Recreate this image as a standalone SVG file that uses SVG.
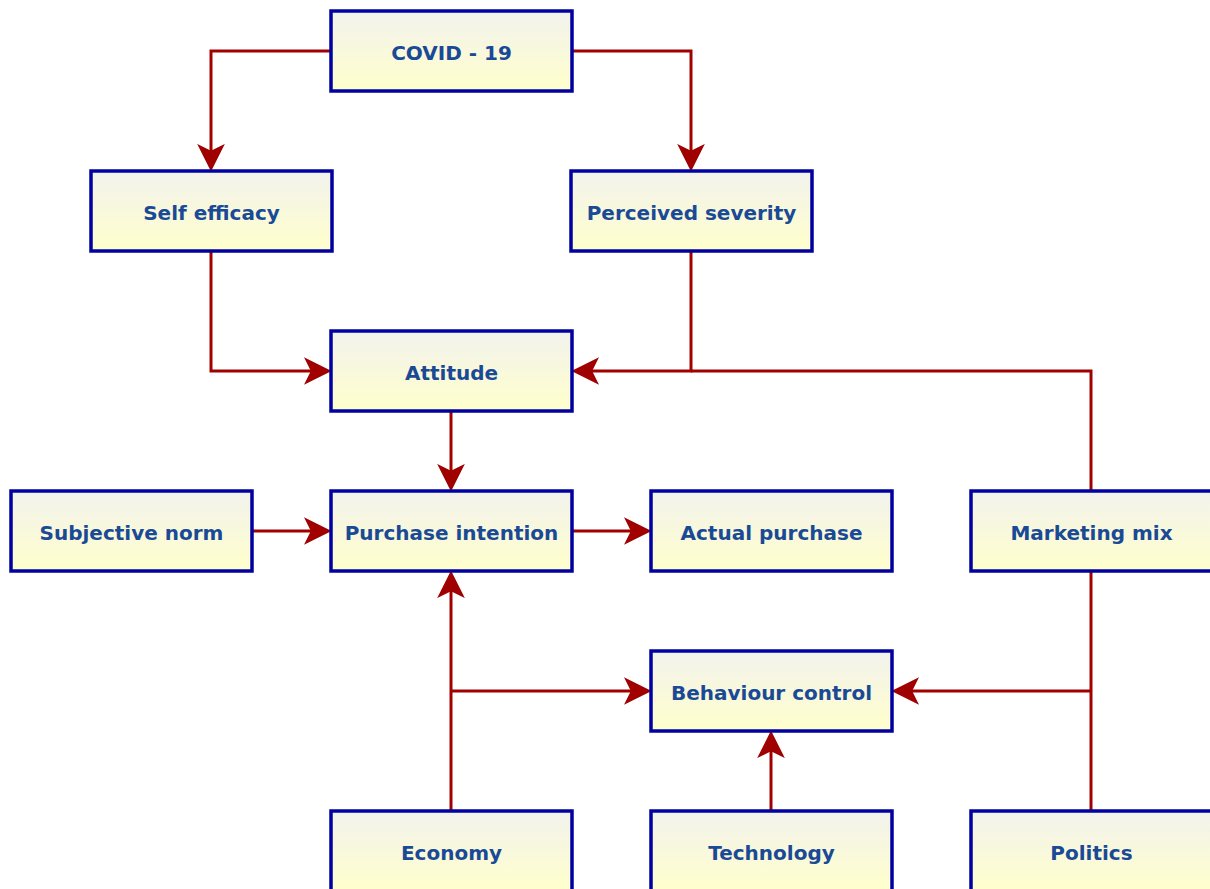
<svg xmlns="http://www.w3.org/2000/svg" width="1210" height="889" viewBox="0 0 1210 889">
<defs>
<linearGradient id="fill" x1="0" y1="0" x2="0" y2="1">
<stop offset="0" stop-color="#F2F2EE"/>
<stop offset="1" stop-color="#FFFFCC"/>
</linearGradient>
<marker id="arr" markerUnits="userSpaceOnUse" markerWidth="30" markerHeight="30" viewBox="-20 -13 26 26" refX="0" refY="0" orient="auto">
<path d="M4,0 L-20,-12 L-14,0 L-20,12 Z" fill="#A00000"/>
</marker>
</defs>
<style>
.box{fill:url(#fill);stroke:#0000A0;stroke-width:3.5}
.lbl{font-family:"DejaVu Sans",sans-serif;font-weight:bold;font-size:20px;fill:#1A4A96;text-anchor:middle}
.c{fill:none;stroke:#A00000;stroke-width:3}
.a{marker-end:url(#arr)}
</style>
<rect width="1210" height="889" fill="#FFFFFF"/>
<g id="connectors">
<path class="c a" d="M331,51 H211 V167"/>
<path class="c a" d="M572,51 H691 V167"/>
<path class="c a" d="M211,251 V371 H327"/>
<path class="c a" d="M691,251 V371 H576"/>
<path class="c" d="M1091,491 V371 H691"/>
<path class="c a" d="M451,411 V487"/>
<path class="c a" d="M252,531 H327"/>
<path class="c a" d="M572,531 H647"/>
<path class="c a" d="M451,811 V575"/>
<path class="c a" d="M451,691 H647"/>
<path class="c a" d="M771,811 V735"/>
<path class="c" d="M1091,571 V811"/>
<path class="c a" d="M1091,691 H896"/>
</g>
<g id="covid"><rect class="box" x="331" y="11" width="241" height="80"/><text class="lbl" x="451.5" y="60">COVID - 19</text></g>
<g id="self-efficacy"><rect class="box" x="91" y="171" width="241" height="80"/><text class="lbl" x="211.5" y="220">Self efficacy</text></g>
<g id="perceived-severity"><rect class="box" x="571" y="171" width="241" height="80"/><text class="lbl" x="691.5" y="220">Perceived severity</text></g>
<g id="attitude"><rect class="box" x="331" y="331" width="241" height="80"/><text class="lbl" x="451.5" y="380">Attitude</text></g>
<g id="subjective-norm"><rect class="box" x="11" y="491" width="241" height="80"/><text class="lbl" x="131.5" y="540">Subjective norm</text></g>
<g id="purchase-intention"><rect class="box" x="331" y="491" width="241" height="80"/><text class="lbl" x="451.5" y="540">Purchase intention</text></g>
<g id="actual-purchase"><rect class="box" x="651" y="491" width="241" height="80"/><text class="lbl" x="771.5" y="540">Actual purchase</text></g>
<g id="marketing-mix"><rect class="box" x="971" y="491" width="241" height="80"/><text class="lbl" x="1091.5" y="540">Marketing mix</text></g>
<g id="behaviour-control"><rect class="box" x="651" y="651" width="241" height="80"/><text class="lbl" x="771.5" y="700">Behaviour control</text></g>
<g id="economy"><rect class="box" x="331" y="811" width="241" height="80"/><text class="lbl" x="451.5" y="860">Economy</text></g>
<g id="technology"><rect class="box" x="651" y="811" width="241" height="80"/><text class="lbl" x="771.5" y="860">Technology</text></g>
<g id="politics"><rect class="box" x="971" y="811" width="241" height="80"/><text class="lbl" x="1091.5" y="860">Politics</text></g>
</svg>
